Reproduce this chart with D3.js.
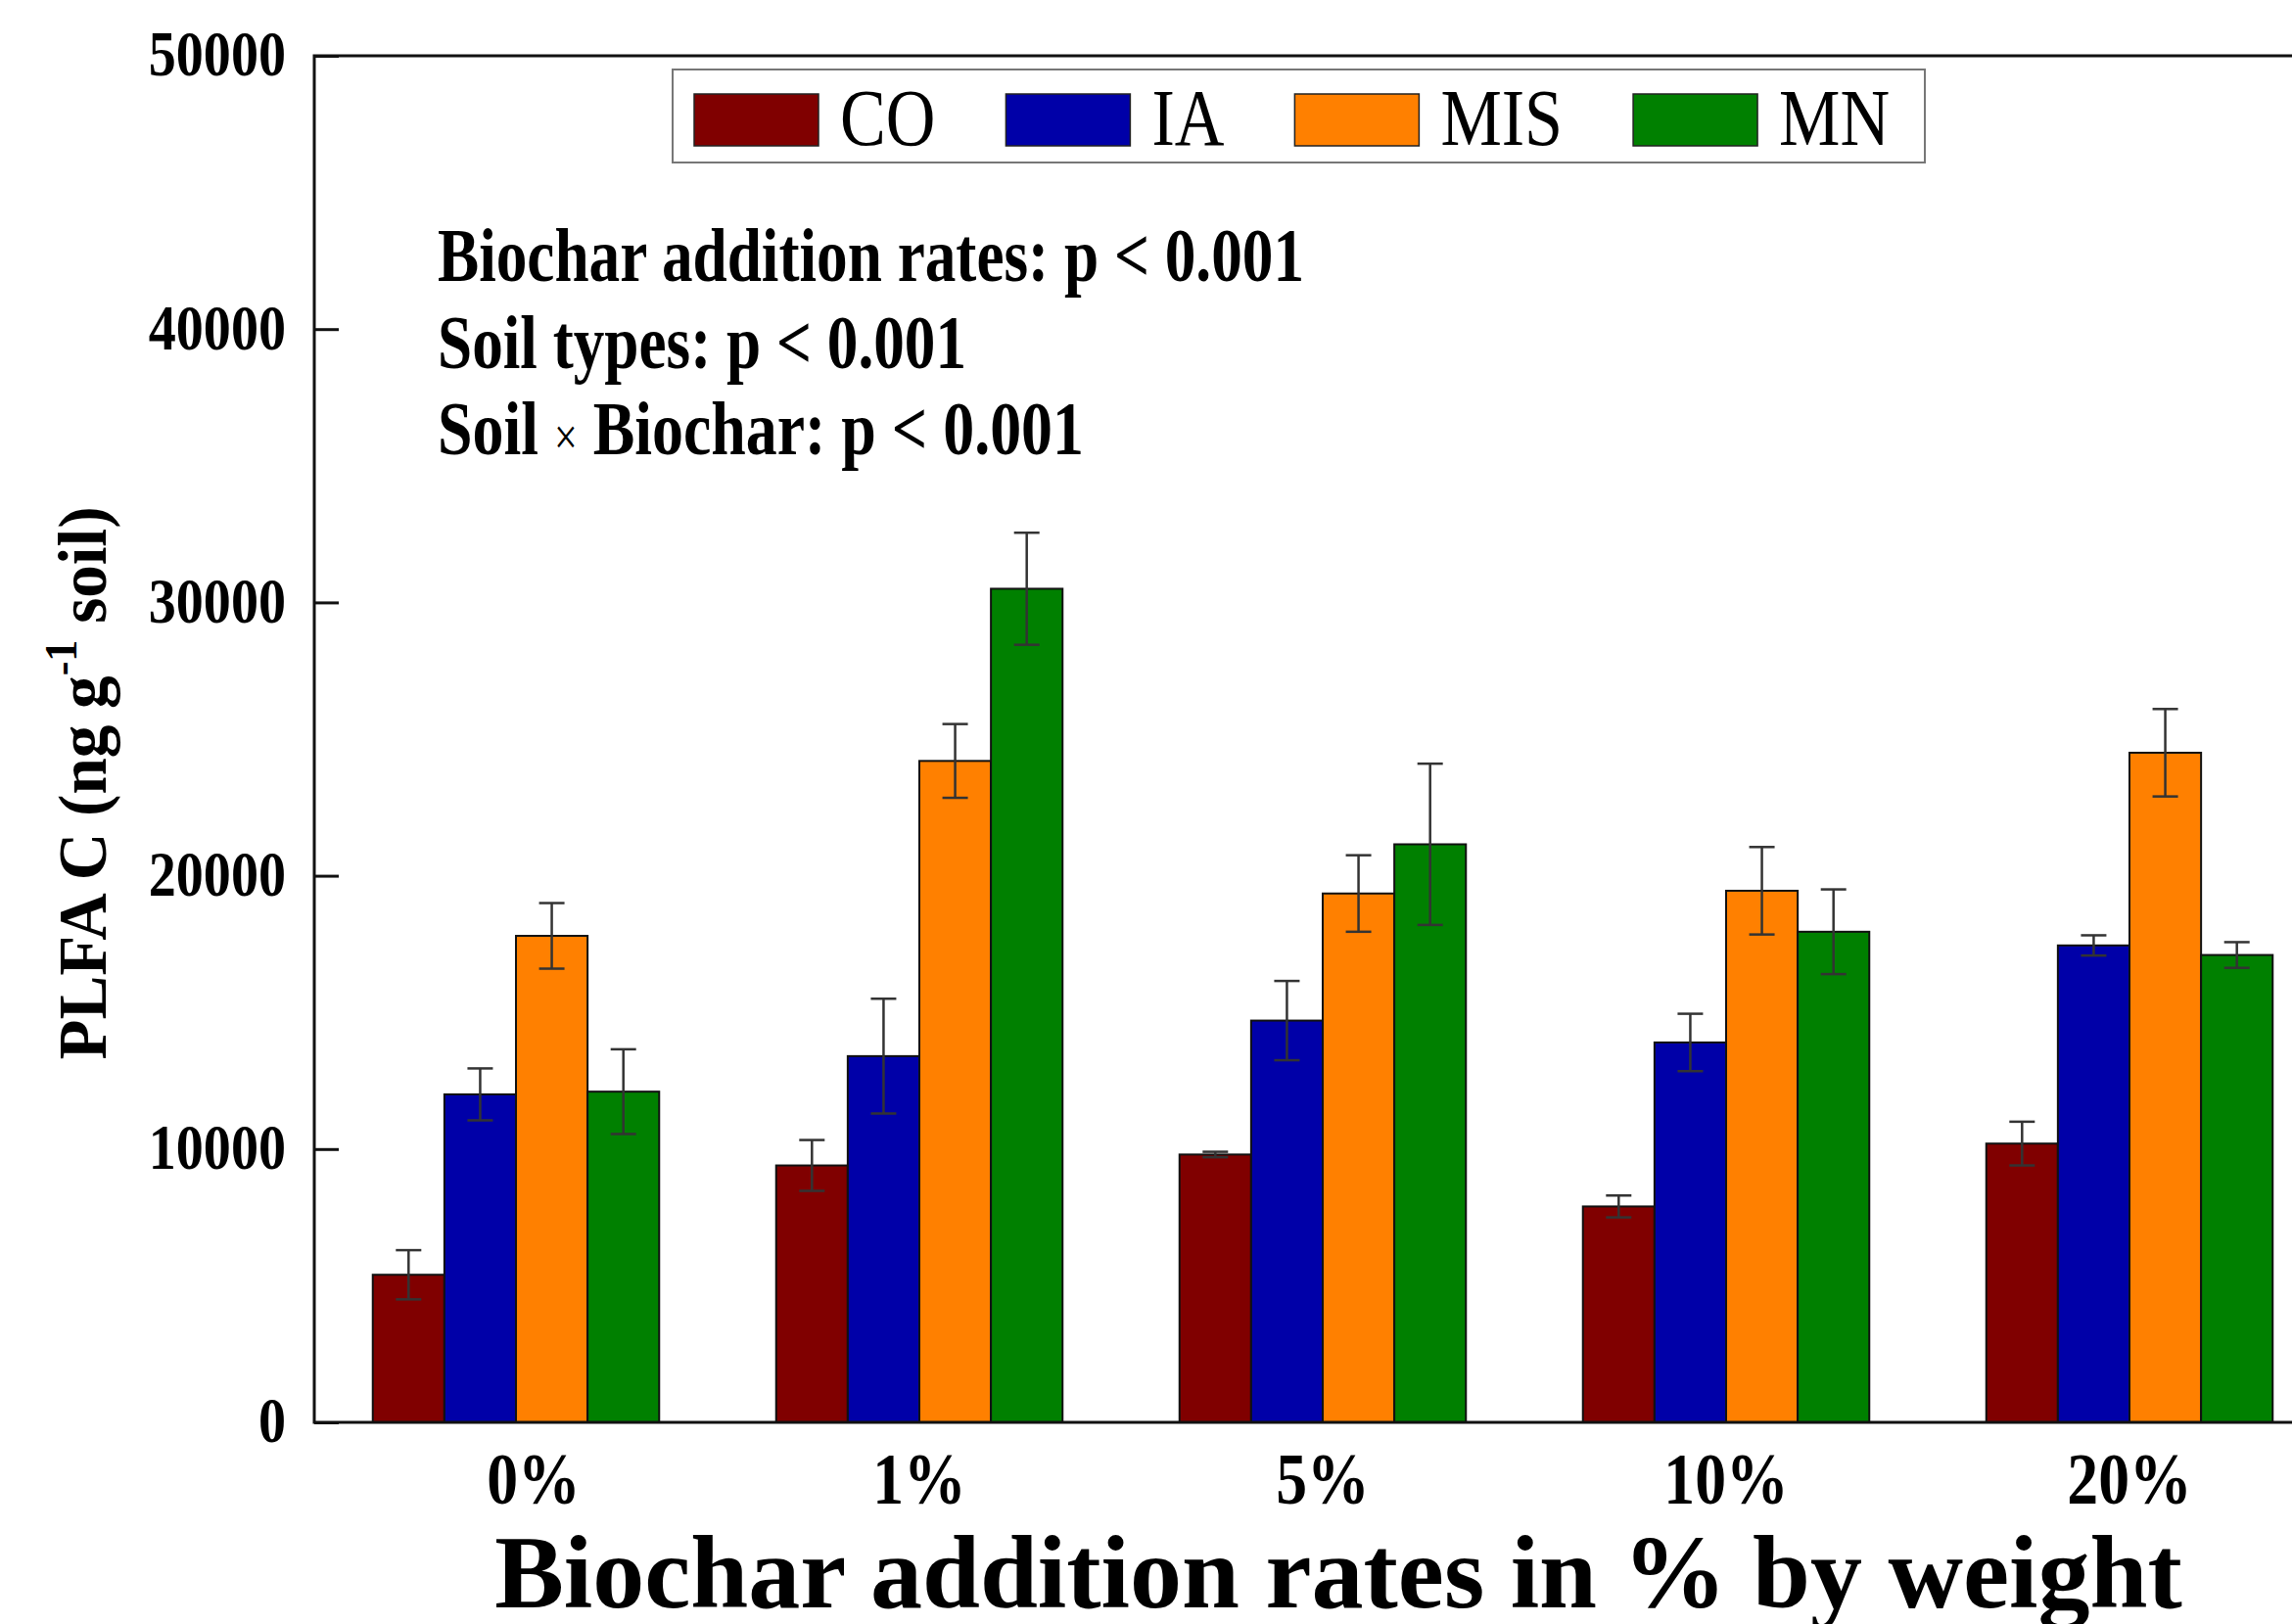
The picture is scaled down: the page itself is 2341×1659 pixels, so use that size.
<!DOCTYPE html>
<html>
<head>
<meta charset="utf-8">
<script src="https://cdn.jsdelivr.net/npm/d3@7"></script>
<style>
body { margin: 0; background: #fff; }
svg { display: block; }
text { font-family: "Liberation Serif", "Times New Roman", serif; fill: #000; }
</style>
</head>
<body>
<svg id="chart" width="2341" height="1659"></svg>
<script>
// data
var rates = ["0%", "1%", "5%", "10%", "20%"];
var soils = ["CO", "IA", "MIS", "MN"];
var colors = ["#800000", "#0000a8", "#ff8000", "#008000"];
var meanCO  = [5400, 9400, 9800, 7900, 10200];
var meanIA  = [12000, 13400, 14700, 13900, 17450];
var meanMIS = [17800, 24200, 19350, 19450, 24500];
var meanMN  = [12100, 30500, 21150, 17950, 17100];
var errCO  = [900, 930, 100, 400, 800];
var errIA  = [950, 2100, 1450, 1050, 370];
var errMIS = [1200, 1350, 1400, 1600, 1600];
var errMN  = [1550, 2050, 2950, 1550, 470];
var yTicks = [0, 10000, 20000, 30000, 40000, 50000];
var notes = ["Biochar addition rates: p < 0.001", "Soil types: p < 0.001", "Soil|Biochar: p < 0.001"];

var means = [meanCO, meanIA, meanMIS, meanMN];
var errs = [errCO, errIA, errMIS, errMN];

var svg = d3.select("#chart");
var padL = 321, padT = 57, padB = 1453;

var x0 = d3.scaleBand().domain(rates).range([padL, padL + 5 * 412])
    .paddingInner(0.29).paddingOuter(0.145);
var x1 = d3.scaleBand().domain(soils).range([0, x0.bandwidth()]);
var y = d3.scaleLinear().domain([0, 50000]).range([padB, padT]);

function condense(sel, f) {
    sel.each(function() {
        var w = this.getComputedTextLength();
        d3.select(this).attr("textLength", w * f).attr("lengthAdjust", "spacingAndGlyphs");
    });
}

// bars
var rows = [];
rates.forEach(function(r, i) {
    soils.forEach(function(s, j) {
        rows.push({rate: r, soil: s, c: colors[j], v: means[j][i], e: errs[j][i]});
    });
});

var g = svg.append("g");
g.selectAll("rect.bar").data(rows).enter().append("rect")
    .attr("class", "bar")
    .attr("x", function(d) { return x0(d.rate) + x1(d.soil); })
    .attr("y", function(d) { return y(d.v); })
    .attr("width", x1.bandwidth())
    .attr("height", function(d) { return y(0) - y(d.v); })
    .attr("fill", function(d) { return d.c; })
    .attr("stroke", "#111")
    .attr("stroke-width", 2);

// error bars
var eb = g.selectAll("g.err").data(rows).enter().append("g")
    .attr("class", "err")
    .attr("stroke", "#333")
    .attr("stroke-width", 2.5);
function cx(d) { return x0(d.rate) + x1(d.soil) + x1.bandwidth() / 2; }
eb.append("line")
    .attr("x1", cx).attr("x2", cx)
    .attr("y1", function(d) { return y(d.v - d.e); })
    .attr("y2", function(d) { return y(d.v + d.e); });
[1, -1].forEach(function(k) {
    eb.append("line")
        .attr("x1", function(d) { return cx(d) - 13; })
        .attr("x2", function(d) { return cx(d) + 13; })
        .attr("y1", function(d) { return y(d.v + k * d.e); })
        .attr("y2", function(d) { return y(d.v + k * d.e); });
});

// y axis
var ya = svg.append("g").attr("transform", "translate(" + padL + ",0)")
    .call(d3.axisLeft(y).tickValues(yTicks).tickSize(-25).tickPadding(29).tickFormat(d3.format("d")));
ya.select(".domain").remove();
ya.selectAll("line").attr("stroke", "#111").attr("stroke-width", 3);
ya.selectAll("text").attr("font-size", 66).attr("font-weight", "bold")
    .attr("font-family", "Liberation Serif").attr("dy", "0.3em");
condense(ya.selectAll("text"), 0.85);

// x axis
var xa = svg.append("g").attr("transform", "translate(0," + padB + ")")
    .call(d3.axisBottom(x0).tickSize(0).tickPadding(30));
xa.select(".domain").remove();
xa.selectAll("text").attr("font-size", 74).attr("font-weight", "bold")
    .attr("font-family", "Liberation Serif");
condense(xa.selectAll("text"), 0.86);
xa.selectAll(".tick").filter(function(d) { return d === "0%"; })
    .select("text").attr("x", 18);

// frame
svg.append("path")
    .attr("d", "M2400," + padT + "H" + padL + "V" + padB + "H2400")
    .attr("fill", "none").attr("stroke", "#111").attr("stroke-width", 3);

// legend
svg.append("rect").attr("x", 687).attr("y", 71).attr("width", 1279).attr("height", 95)
    .attr("fill", "#fff").attr("stroke", "#777").attr("stroke-width", 2);
var lx = 709;
soils.forEach(function(s, j) {
    svg.append("rect").attr("x", lx).attr("y", 96).attr("width", 127).attr("height", 53)
        .attr("fill", colors[j]).attr("stroke", "#222").attr("stroke-width", 1.5);
    var t = svg.append("text").attr("x", lx + 127 + 22).attr("y", 148)
        .attr("font-size", 82).text(s);
    condense(t, 0.855);
    lx += 127 + 22 + (+t.attr("textLength")) + 72;
});

// annotations
var noteW = [885, 540, 660];
notes.forEach(function(n, i) {
    var t = svg.append("text").attr("x", 447).attr("y", 287 + i * 88.5)
        .attr("font-size", 79).attr("font-weight", "bold")
        .attr("textLength", noteW[i]).attr("lengthAdjust", "spacingAndGlyphs");
    var parts = n.split("|");
    if (parts.length > 1) {
        t.append("tspan").text(parts[0] + " ");
        t.append("tspan").attr("font-size", 52).attr("font-weight", "normal").text("\u00d7");
        t.append("tspan").text(" " + parts[1]);
    } else {
        t.text(n);
    }
});

// y title
var yt = svg.append("text").attr("transform", "translate(108,800) rotate(-90)")
    .attr("text-anchor", "middle").attr("font-size", 70).attr("font-weight", "bold")
    .attr("textLength", 565).attr("lengthAdjust", "spacingAndGlyphs");
yt.append("tspan").text("PLFA C (ng g");
yt.append("tspan").attr("font-size", 46).attr("dy", -30).text("-1");
yt.append("tspan").attr("dy", 30).text(" soil)");

// x title
svg.append("text").attr("x", 1367).attr("y", 1642).attr("text-anchor", "middle")
    .attr("font-size", 106).attr("font-weight", "bold")
    .text("Biochar addition rates in % by weight");
</script>
</body>
</html>
